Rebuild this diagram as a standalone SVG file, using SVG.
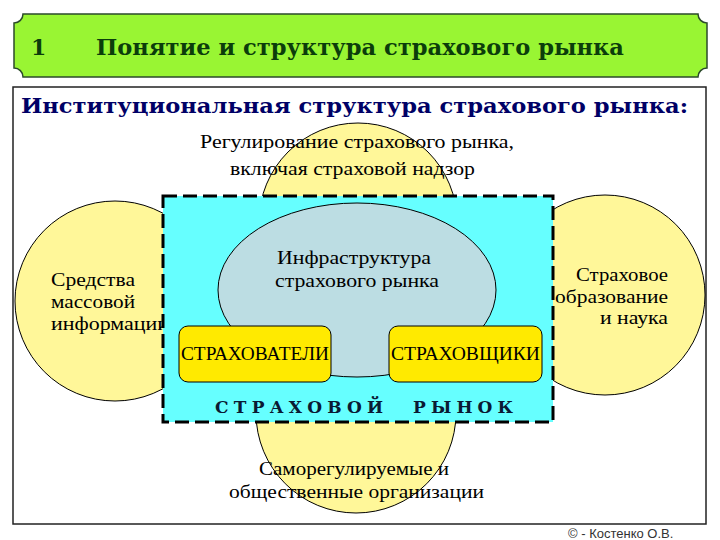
<svg xmlns="http://www.w3.org/2000/svg" width="720" height="540" viewBox="0 0 720 540">
<style>
.circ{fill:#fff799;stroke:#000;stroke-width:1}
.t{font-family:"Liberation Serif","Times New Roman",serif;font-size:18px;fill:#000}
.box{fill:#ffea00;stroke:#000;stroke-width:1}
.hd{font-family:"DejaVu Serif",serif;font-weight:bold}
.mk{font-family:"DejaVu Serif",serif;font-weight:bold;font-size:17px;fill:#0a1a33}
</style>
<rect x="0" y="0" width="720" height="540" fill="#fff"/>
<g id="header">
<path d="M23,14 H698 A9,9 0 0 0 707,23 V68 A9,9 0 0 0 698,77 H23 A9,9 0 0 0 14,68 V23 A9,9 0 0 0 23,14 Z" fill="#99f533" stroke="#2b4a2b" stroke-width="1.5"/>
<text class="hd" x="31" y="55" font-size="22" fill="#0b3d0b">1</text>
<text class="hd" x="96" y="55" font-size="22" fill="#0b3d0b" textLength="528" lengthAdjust="spacingAndGlyphs">Понятие и структура страхового рынка</text>
</g>
<g id="frame">
<rect x="13" y="87" width="693" height="437" fill="#fff" stroke="#222" stroke-width="1.5"/>
<text class="hd" x="21" y="113" font-size="21" fill="#000066" textLength="667" lengthAdjust="spacingAndGlyphs">Институциональная структура страхового рынка:</text>
</g>
<g id="node-regulation">
<circle class="circ" cx="358" cy="222" r="99"/>
<text class="t" x="200" y="148" textLength="314" lengthAdjust="spacingAndGlyphs">Регулирование страхового рынка,</text>
<text class="t" x="230" y="175" textLength="245" lengthAdjust="spacingAndGlyphs">включая страховой надзор</text>
</g>
<g id="node-selfreg">
<circle class="circ" cx="356" cy="413" r="100"/>
<text class="t" x="259" y="475" textLength="190" lengthAdjust="spacingAndGlyphs">Саморегулируемые и</text>
<text class="t" x="229" y="498" textLength="255" lengthAdjust="spacingAndGlyphs">общественные организации</text>
</g>
<g id="node-media">
<circle class="circ" cx="115" cy="301" r="100"/>
<text class="t" x="51" y="286" textLength="84" lengthAdjust="spacingAndGlyphs">Средства</text>
<text class="t" x="51" y="308" textLength="84" lengthAdjust="spacingAndGlyphs">массовой</text>
<text class="t" x="51" y="330" textLength="118" lengthAdjust="spacingAndGlyphs">информации</text>
</g>
<g id="node-education">
<circle class="circ" cx="605" cy="295" r="100"/>
<text class="t" x="668" y="281" text-anchor="end" textLength="92" lengthAdjust="spacingAndGlyphs">Страховое</text>
<text class="t" x="668" y="303" text-anchor="end" textLength="113" lengthAdjust="spacingAndGlyphs">образование</text>
<text class="t" x="668" y="324" text-anchor="end" textLength="68" lengthAdjust="spacingAndGlyphs">и наука</text>
</g>
<g id="node-market">
<rect x="163" y="196" width="390" height="226" fill="#66ffff" stroke="#000" stroke-width="3" stroke-dasharray="14 6"/>
<text class="mk" x="215" y="413" textLength="168" lengthAdjust="spacing">СТРАХОВОЙ</text>
<text class="mk" x="413" y="413" textLength="100" lengthAdjust="spacing">РЫНОК</text>
</g>
<g id="node-infrastructure">
<ellipse cx="357" cy="290" rx="139" ry="87" fill="#bcdde3" stroke="#000" stroke-width="1"/>
<text class="t" x="277" y="264" textLength="154" lengthAdjust="spacingAndGlyphs">Инфраструктура</text>
<text class="t" x="275" y="287" textLength="164" lengthAdjust="spacingAndGlyphs">страхового рынка</text>
</g>
<g id="node-insured">
<rect class="box" x="179" y="326" width="152" height="56" rx="9"/>
<text class="t" x="181" y="360" textLength="148" lengthAdjust="spacingAndGlyphs">СТРАХОВАТЕЛИ</text>
</g>
<g id="node-insurers">
<rect class="box" x="389" y="326" width="153" height="56" rx="9"/>
<text class="t" x="391" y="360" textLength="149" lengthAdjust="spacingAndGlyphs">СТРАХОВЩИКИ</text>
</g>
<g id="connectors"/>
<text x="568" y="538" font-family="'Liberation Sans',Arial,sans-serif" font-size="13" fill="#333">© - Костенко О.В.</text>
</svg>
